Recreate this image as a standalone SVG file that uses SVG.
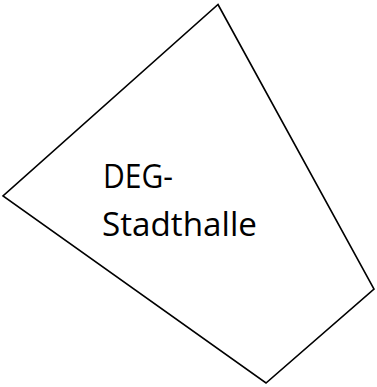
<svg xmlns="http://www.w3.org/2000/svg" width="377" height="387" viewBox="0 0 377 387">
<style>
.shape{fill:#fff;stroke:#000;stroke-width:1.6;stroke-linejoin:miter}
.lbl{font-family:"Open Sans","Liberation Sans",sans-serif;font-size:32px;fill:#000}
</style>
<rect width="377" height="387" fill="#fff"/>
<g id="deg-stadthalle">
<polygon class="shape" points="218,4.5 374,289 266,383 3,196"/>
<text class="lbl" x="103" y="188" textLength="70" lengthAdjust="spacingAndGlyphs">DEG-</text>
<text class="lbl" x="102" y="236" textLength="155" lengthAdjust="spacingAndGlyphs">Stadthalle</text>
</g>
</svg>
